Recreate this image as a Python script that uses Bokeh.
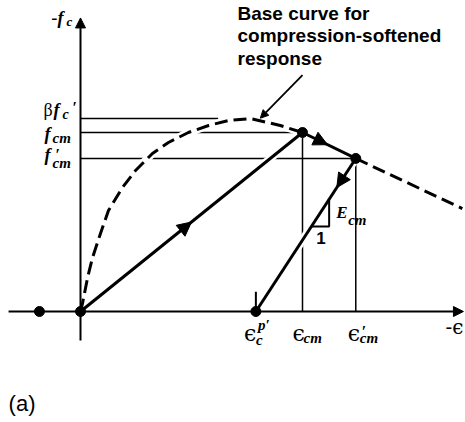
from bokeh.plotting import figure
from bokeh.models import Label, Arrow, NormalHead, Range1d
from bokeh.embed import file_html
from bokeh.resources import INLINE

# Strain normalised by eps_cm, stress normalised by f_cm
eps_left = -0.185        # point on the tension side of the origin
eps_p = 0.79             # plastic strain eps_c^p'
eps_cm = 1.0
eps_cm_prime = 1.24
f_cm = 1.0
f_cm_prime = 0.855
beta_fc = 1.078          # peak of the compression-softened base curve
beta_line_end = 0.62

# Base curve (ascending branch up to the (eps_cm, f_cm) point)
base_eps = [0.0, 0.009, 0.032, 0.054, 0.09, 0.126, 0.189, 0.248, 0.324,
            0.396, 0.486, 0.577, 0.667, 0.766, 0.90, 1.0]
base_sig = [0.0, 0.045, 0.19, 0.30, 0.436, 0.564, 0.693, 0.788, 0.883,
            0.944, 1.0, 1.039, 1.067, 1.078, 1.039, 1.0]
# Descending branch beyond (eps_cm', f_cm')
tail_eps = [1.24, 1.72]
tail_sig = [0.855, 0.575]

axis_x = [-0.324, 1.725]
axis_y = [-0.162, 1.64]

tri_eps = [1.04, 1.12]          # slope triangle on the unloading branch
note_tail = (1.0, 1.32)
note_tip = (0.81, 1.08)

K = "black"

p = figure(width=465, height=422, output_backend="svg", toolbar_location=None,
           x_range=Range1d(-80 / 222, 385 / 222), y_range=Range1d(-111 / 179, 311 / 179),
           x_axis_location=None, y_axis_location=None, min_border=0)
p.grid.visible = False
p.outline_line_color = None
p.background_fill_color = "white"
p.border_fill_color = "white"

unload_slope = f_cm_prime / (eps_cm_prime - eps_p)

# reference lines
p.line([0, beta_line_end], [beta_fc, beta_fc], line_color=K, line_width=1.5)
p.line([0, eps_cm], [f_cm, f_cm], line_color=K, line_width=1.5)
p.line([0, eps_cm_prime], [f_cm_prime, f_cm_prime], line_color=K, line_width=1.5)
p.line([eps_cm, eps_cm], [0, f_cm], line_color=K, line_width=1.5)
p.line([eps_cm_prime, eps_cm_prime], [0, f_cm_prime], line_color=K, line_width=1.5)

# white halos so the heavy paths break the thin lines they cross
for xs, ys in [(base_eps, base_sig), ([0, eps_cm], [0, f_cm]),
               ([eps_cm_prime, eps_p], [f_cm_prime, 0])]:
    p.line(xs, ys, line_color="white", line_width=8)

# axes with arrowheads
p.add_layout(Arrow(end=NormalHead(size=10, fill_color=K, line_color=K),
                   x_start=axis_x[0], y_start=0, x_end=axis_x[1], y_end=0,
                   line_color=K, line_width=2))
p.add_layout(Arrow(end=NormalHead(size=10, fill_color=K, line_color=K),
                   x_start=0, y_start=axis_y[0], x_end=0, y_end=axis_y[1],
                   line_color=K, line_width=2))

# base curve (dashed) and the load path (solid)
p.line(base_eps, base_sig, line_color=K, line_width=3, line_dash="13 6")
p.line(tail_eps, tail_sig, line_color=K, line_width=3, line_dash="13 6")
p.line([0, eps_cm], [0, f_cm], line_color=K, line_width=3)
p.line([eps_cm, eps_cm_prime], [f_cm, f_cm_prime], line_color=K, line_width=3)
p.line([eps_cm_prime, eps_p], [f_cm_prime, 0], line_color=K, line_width=3)
p.line([eps_p, eps_p], [0, 0.11], line_color=K, line_width=2)


def head_on(x0, y0, x1, y1, frac, size=14):
    xm = x0 + frac * (x1 - x0)
    ym = y0 + frac * (y1 - y0)
    p.add_layout(Arrow(end=NormalHead(size=size, fill_color=K, line_color=K),
                       x_start=x0, y_start=y0, x_end=xm, y_end=ym, line_alpha=0))


head_on(0, 0, eps_cm, f_cm, 0.5)
head_on(eps_cm, f_cm, eps_cm_prime, f_cm_prime, 0.47)
head_on(eps_cm_prime, f_cm_prime, eps_p, 0, 0.19)

# slope triangle
ty0 = unload_slope * (tri_eps[0] - eps_p)
ty1 = unload_slope * (tri_eps[1] - eps_p)
p.line([tri_eps[0], tri_eps[1], tri_eps[1]], [ty0, ty0, ty1], line_color=K, line_width=2)

# state points
p.scatter([eps_left, 0, eps_p, eps_cm, eps_cm_prime], [0, 0, 0, f_cm, f_cm_prime],
          size=10, color=K)

# annotation arrow
p.add_layout(Arrow(end=NormalHead(size=8, fill_color=K, line_color=K),
                   x_start=note_tail[0], y_start=note_tail[1],
                   x_end=note_tip[0], y_end=note_tip[1], line_color=K, line_width=1.8))

BASE_SHIFT = -7  # screen-pixel correction for the label baseline


def put(text, x, y, dx, dy, size, font="Liberation Serif", style="bold italic"):
    p.add_layout(Label(x=x, y=y, x_offset=dx, y_offset=-(dy + BASE_SHIFT), text=text,
                       text_font=font, text_font_size=f"{size}px", text_font_style=style,
                       text_align="left", text_baseline="alphabetic", text_color=K))


# vertical axis labels
put("-f", 0, axis_y[1], -29, 7, 18)
put("c", 0, axis_y[1], -14, 11, 13)
put("β", 0, beta_fc, -37, -2, 18, style="normal")
put("f", 0, beta_fc, -27, -2, 18)
put("c", 0, beta_fc, -18, 3, 14)
put("′", 0, beta_fc, -8, -4, 16, style="bold")
put("f", 0, f_cm, -36, 8, 18)
put("cm", 0, f_cm, -28, 12, 15)
put("f", 0, f_cm_prime, -36, 4, 18)
put("′", 0, f_cm_prime, -25, 3, 16, style="bold")
put("cm", 0, f_cm_prime, -28, 12, 15)

# horizontal axis labels
EPS = "DejaVu Serif"
put("ϵ", eps_p, 0, -12, 29, 22, font=EPS, style="normal")
put("c", eps_p, 0, 0, 35, 15)
put("p′", eps_p, 0, 2, 20, 15)
put("ϵ", eps_cm, 0, -10, 29, 22, font=EPS, style="normal")
put("cm", eps_cm, 0, 1, 33, 15)
put("ϵ", eps_cm_prime, 0, -8, 29, 22, font=EPS, style="normal")
put("′", eps_cm_prime, 0, 6, 27, 16, style="bold")
put("cm", eps_cm_prime, 0, 4, 33, 15)
put("-ϵ", axis_x[1], 0, -18, 22, 20, font=EPS, style="normal")

# slope triangle labels
put("E", tri_eps[1], ty0, 7, -7, 17)
put("cm", tri_eps[1], ty0, 19, 1, 15)
put("1", tri_eps[1], ty0, -13, 19, 17, font="Liberation Sans", style="bold")

# callout text
for i, line in enumerate(["Base curve for", "compression-softened", "response"]):
    put(line, note_tail[0], note_tail[1], -65, -55 + 22.5 * i, 19,
        font="Liberation Sans", style="bold")

put("(a)", axis_x[0], 0, 0, 99, 22, font="Liberation Sans", style="normal")

open("out.html", "w").write(file_html(p, INLINE))
